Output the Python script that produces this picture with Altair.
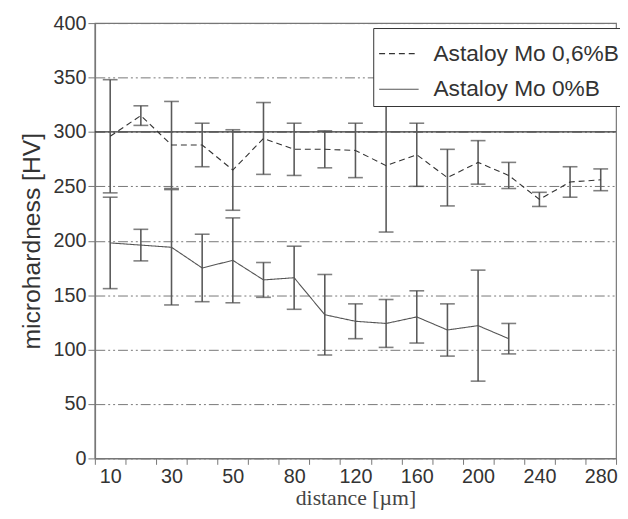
import altair as alt
import pandas as pd

# ---- data ----
distance = [10, 20, 30, 40, 50, 60, 80, 100, 120, 140, 160, 180, 200, 220, 240, 260, 280]
shown_labels = [10, 30, 50, 80, 120, 160, 200, 240, 280]
series_names = ["Astaloy Mo 0,6%B", "Astaloy Mo 0%B"]

b06_mean = [296, 315, 288, 288, 265, 294, 284, 284, 283, 269, 279, 258, 272, 260, 238, 254, 256]
b06_err = [52, 9, 40, 20, 37, 33, 24, 17, 25, 61, 29, 26, 20, 12, 6.5, 14, 10]

b0_dist = [10, 20, 30, 40, 50, 60, 80, 100, 120, 140, 160, 180, 200, 220]
b0_mean = [198, 196, 194, 175, 182, 164, 166, 132, 126, 124, 130, 118, 122, 110]
b0_err = [42, 14.5, 53, 31, 39, 16, 29, 37, 16, 22, 24, 24, 51, 14]

ref_line = [300]
y_ticks = [0, 50, 100, 150, 200, 250, 300, 350, 400]

rows = []
for d, m, e in zip(distance, b06_mean, b06_err):
    rows.append(dict(distance=d, mean=m, lo=m - e, hi=m + e, series=series_names[0]))
for d, m, e in zip(b0_dist, b0_mean, b0_err):
    rows.append(dict(distance=d, mean=m, lo=m - e, hi=m + e, series=series_names[1]))
df = pd.DataFrame(rows)
ref_df = pd.DataFrame({"v": ref_line})

label_expr = ("indexof([" + ",".join(str(v) for v in shown_labels) +
              "], datum.value) >= 0 ? datum.label : ''")

x_enc = alt.X(
    "distance:O",
    sort=distance,
    scale=alt.Scale(type="band", domain=distance, paddingInner=0, paddingOuter=0),
    axis=alt.Axis(
        title="distance [µm]",
        labelExpr=label_expr,
        tickBand="extent",
        labelAngle=0,
        labelFontSize=20,
        labelColor="#333",
        labelFont="Liberation Sans",
        labelPadding=2,
        tickSize=6,
        tickColor="#777",
        domainColor="#777",
        titleFont="Liberation Serif",
        titleFontSize=22,
        titleFontWeight="normal",
        titleColor="#444",
        titlePadding=2,
        grid=False,
    ),
)

y_axis = alt.Axis(
    title="microhardness [HV]",
    values=y_ticks,
    labelFontSize=20,
    labelColor="#333",
    labelFont="Liberation Sans",
    labelPadding=2,
    tickSize=7,
    tickColor="#777",
    domainColor="#777",
    domainWidth=1.5,
    titleFont="Liberation Sans",
    titleFontSize=25,
    titleFontWeight="normal",
    titleColor="#333",
    titlePadding=9,
    grid=True,
    gridColor="#777",
    gridDash=[10, 3, 2, 3, 2, 3],
    gridWidth=1,
)
y_scale = alt.Scale(domain=[0, 400], nice=False)

legend_cfg = dict(
    title=None,
    orient="none",
    legendX=282,
    legendY=5,
    fillColor="white",
    strokeColor="#333",
    padding=5,
    labelFontSize=23,
    labelFont="Liberation Sans",
    labelColor="#333",
    labelOffset=14,
    labelLimit=400,
    symbolType="stroke",
    symbolSize=1600,
    symbolStrokeWidth=1.2,
    rowPadding=3,
)

base = alt.Chart(df)

ref = alt.Chart(ref_df).mark_rule(color="#333", strokeWidth=1.3).encode(
    y=alt.Y("v:Q", scale=y_scale, axis=y_axis)
)

bars = base.mark_rule(color="#5a5a5a", strokeWidth=1.6).encode(
    x=x_enc,
    y=alt.Y("lo:Q", scale=y_scale, axis=y_axis),
    y2="hi:Q",
)

caps_lo = base.mark_tick(color="#4a4a4a", thickness=1.6, size=15, orient="horizontal").encode(
    x=x_enc, y=alt.Y("lo:Q", scale=y_scale, axis=y_axis)
)
caps_hi = base.mark_tick(color="#4a4a4a", thickness=1.6, size=15, orient="horizontal").encode(
    x=x_enc, y=alt.Y("hi:Q", scale=y_scale, axis=y_axis)
)

lines = base.mark_line(strokeWidth=1.1).encode(
    x=x_enc,
    y=alt.Y("mean:Q", scale=y_scale, axis=y_axis),
    color=alt.Color(
        "series:N",
        scale=alt.Scale(domain=series_names, range=["#333333", "#555555"]),
        legend=alt.Legend(**legend_cfg),
    ),
    strokeDash=alt.StrokeDash(
        "series:N",
        scale=alt.Scale(domain=series_names, range=[[6, 4], [1, 0]]),
        legend=alt.Legend(**legend_cfg),
    ),
    order=alt.Order("distance:Q"),
)

chart = alt.layer(ref, bars, caps_lo, caps_hi, lines).properties(
    width=528,
    height=441,
    autosize=alt.AutoSizeParams(type="none"),
    padding={"left": 88, "top": 12, "right": 4, "bottom": 50},
    background="white",
).configure_view(stroke="#777", strokeWidth=1.2)

chart.save("out.html", embed_options={"renderer": "svg", "actions": False})
